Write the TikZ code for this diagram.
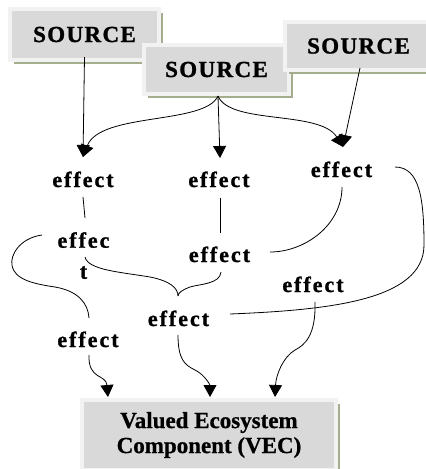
\documentclass[tikz,border=0pt]{standalone}
\usepackage{fontspec}
\setmainfont{Liberation Serif}[FakeBold=0.8]
\newfontfamily\efffont{Liberation Serif}[LetterSpace=9,FakeBold=1.2]
\newfontfamily\srcfont{Liberation Serif}[LetterSpace=6,FakeBold=1.2]
\usetikzlibrary{arrows.meta,shadows,calc}
\definecolor{boxgray}{HTML}{D8D9D8}
\definecolor{boxedge}{HTML}{F2F2F2}
\definecolor{shadowol}{HTML}{A4AE8E}
\begin{document}
\begin{tikzpicture}[x=1pt,y=-1pt,
 box/.style={fill=boxgray, draw=boxedge, line width=4pt, inner sep=0pt,
   drop shadow={shadow xshift=3.5pt, shadow yshift=-3.5pt, fill=shadowol, opacity=1}},
 srctext/.style={font=\srcfont\bfseries\fontsize{23}{27}\selectfont},
 eff/.style={font=\efffont\bfseries\fontsize{22}{31}\selectfont, inner sep=0pt},
 conn/.style={line width=0.8pt},
 arr/.style={conn, -{Triangle[width=13pt,length=12pt]}}
]
\useasboundingbox (0,0) rectangle (426,469);

\node[box, srctext, minimum width=149pt, minimum height=51pt] (s1) at (84.5,34.5) {SOURCE};
\node[box, srctext, minimum width=145pt, minimum height=49pt] (s2) at (216.5,69.5) {SOURCE};
\node[box, srctext, minimum width=147pt, minimum height=48pt] (s3) at (358.5,46) {SOURCE};
\node[box, font=\bfseries\fontsize{23}{25}\selectfont, align=center,
      minimum width=254pt, minimum height=70pt] (vec) at (209,435) {Valued Ecosystem\\Component (VEC)};

\node[eff, anchor=base] (e1) at (83,187) {effect};
\node[eff, anchor=base] (e2) at (219,187) {effect};
\node[eff, anchor=base] (e3) at (341.5,177) {effect};
\node[eff, anchor=north, align=center] (e4) at (83.5,232) {effec\\t};
\node[eff, anchor=base] (e5) at (219.5,262) {effect};
\node[eff, anchor=base] (e6) at (313,292) {effect};
\node[eff, anchor=base] (e7) at (178.5,326) {effect};
\node[eff, anchor=base] (e8) at (88,347) {effect};

% sources to first effects
\draw[arr] ($(s1.south)+(0,-5)$) -- ($(e1.base)+(0,-30)$);
\draw[arr] ($(s2.south)+(1.5,0)$) .. controls (205,125) and (100,112) .. ($(e1.base)+(0,-30)$);
\draw[arr] ($(s2.south)+(1.5,0)$) -- ($(e2.base)+(1,-29)$);
\draw[arr] ($(s2.south)+(1.5,0)$) .. controls (230,125) and (320,110) .. ($(e3.base)+(1.5,-30)$);
\draw[arr] ($(s3.south)+(1.5,-4)$) -- ($(e3.base)+(1.5,-30)$);

% effect chains
\draw[conn] ($(e1.base)+(0,10)$) -- ($(e4.north)+(1.5,-14)$);
\draw[conn] ($(e2.base)+(1,11)$) -- ($(e5.base)+(0.5,-29)$);
\draw[conn] ($(e3.base)+(0.5,10)$) .. controls (342,225) and (305,252) .. ($(e5.base)+(50.5,-10)$);
\draw[conn] ($(e3.base)+(53.5,-10)$) .. controls (420,167) and (424,200) .. (424,245)
   .. controls (424,300) and (330,310) .. ($(e7.base)+(51.5,-12)$);
\draw[conn] ($(e4.north)+(-41.5,3)$) .. controls (20,238) and (10,255) .. (12,265)
   .. controls (14,280) and (35,284) .. (55,287) .. controls (78,291) and (88,303) .. ($(e8.base)+(1,-29)$);

\coordinate (bt) at ($(e7.base)+(-0.5,-30)$);
\draw[conn] ($(e4.north)+(1.5,25)$) .. controls (88,270) and (120,272) .. (150,277)
   .. controls (170,281) and (178,288) .. (bt);
\draw[conn] ($(e5.base)+(1.5,10)$) .. controls (220,284) and (200,284) .. (190,287)
   .. controls (182,290) and (178,293) .. (bt);

% into VEC
\draw[arr] ($(e7.base)+(-0.5,9)$) .. controls (178,360) and (185,365) .. (195,370)
   .. controls (205,375) and (210,385) .. ($(vec.north)+(1,-1)$);
\draw[arr] ($(e6.base)+(2,10)$) .. controls (316,335) and (305,345) .. (295,350)
   .. controls (283,357) and (276,375) .. ($(vec.north)+(66,-1)$);
\draw[arr] ($(e8.base)+(1,8)$) .. controls (88,380) and (106,374) .. ($(vec.north)+(-101,-1)$);
\end{tikzpicture}
\end{document}
